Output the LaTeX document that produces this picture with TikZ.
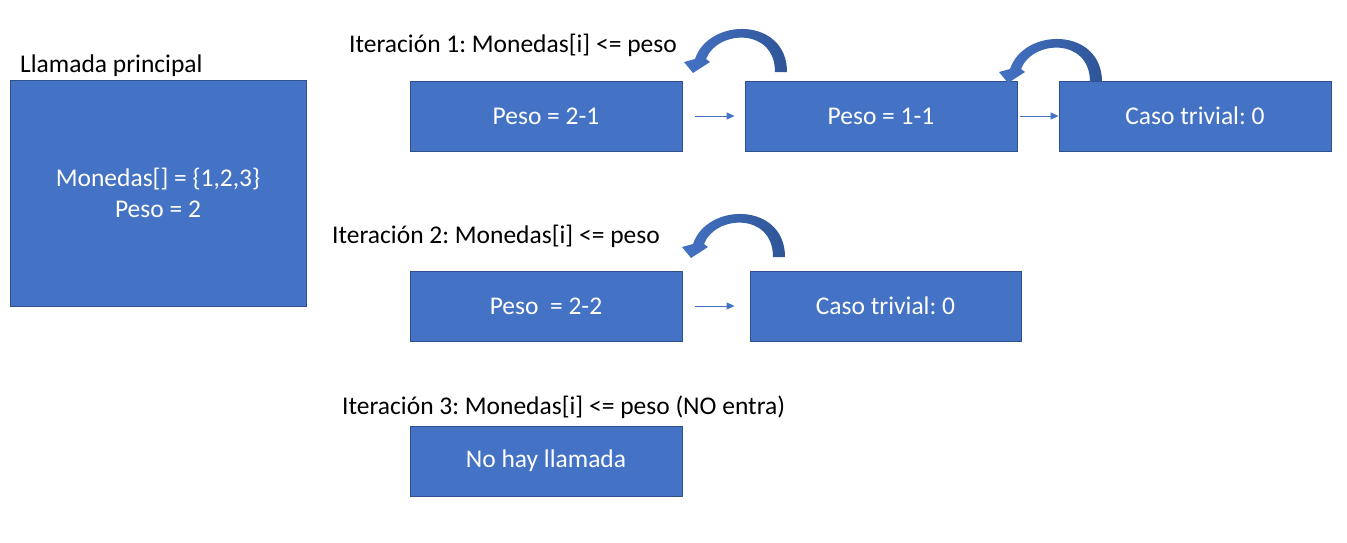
\documentclass[tikz,border=0pt]{standalone}
\usepackage{fontspec}
\setmainfont{Carlito}
\frenchspacing
\usetikzlibrary{arrows.meta}
\definecolor{boxblue}{RGB}{68,114,196}
\definecolor{boxedge}{RGB}{47,82,143}
\definecolor{arcdark}{RGB}{47,85,151}
\tikzset{
  x=1pt, y=-1pt,
  blockbox/.style={draw=boxedge, line width=0.8pt, fill=boxblue, text=white, minimum width=272pt, minimum height=70pt, inner sep=0pt, font=\fontsize{25.5}{31}\selectfont, align=center},
  lbl/.style={font=\fontsize{25.5}{31}\selectfont, inner sep=0pt, anchor=west},
  smallarrow/.style={draw=boxblue, line width=1pt, -{Triangle[length=8pt,width=7pt]}, shorten <=13pt, shorten >=10pt},
  pics/curvedarrow/.style={code={
    \shade[left color=boxblue, right color=arcdark, shading angle=90]
      (0,0) .. controls (0,-55) and (-78,-55) .. (-92,-13)
      -- (-103,-10) -- (-94,1) -- (-77,-10) -- (-81,-13)
      .. controls (-70,-42) and (-12,-45) .. (-12,0) -- cycle;
  }}
}
\begin{document}
\begin{tikzpicture}
\useasboundingbox (0,0) rectangle (1347,542);
% main
\node[lbl] (lmain) at (20,66) {Llamada principal};
\node[blockbox, minimum width=296pt, minimum height=226pt] (main) at (158,193) {Monedas[] = \{1,2,3\}\\Peso = 2};
% iteration 1
\node[lbl] (l1) at (349,45) {Iteración 1: Monedas[i] <= peso};
\node[blockbox] (a) at (546,116) {Peso = 2-1};
\node[blockbox] (b) at (881,116) {Peso = 1-1};
\node[blockbox] (c) at (1195,116) {Caso trivial: 0};
\draw[smallarrow] (a.east) -- (b.west);
\draw[smallarrow, shorten <=3pt, shorten >=0pt] (b.east) -- (c.west);
\pic at (787,72) {curvedarrow};
\pic at (1102,82) {curvedarrow};
% iteration 2
\node[lbl] (l2) at (332,236) {Iteración 2: Monedas[i] <= peso};
\node[blockbox] (d) at (546,306) {Peso \ = 2-2};
\node[blockbox, minimum width=271pt] (e) at (885.5,306) {Caso trivial: 0};
\draw[smallarrow, shorten >=15pt] (d.east) -- (e.west);
\pic at (785,257) {curvedarrow};
% iteration 3
\node[lbl] (l3) at (342,407) {Iteración 3: Monedas[i] <= peso (NO entra)};
\node[blockbox] (f) at (546,461) {No hay llamada};
\end{tikzpicture}
\end{document}
